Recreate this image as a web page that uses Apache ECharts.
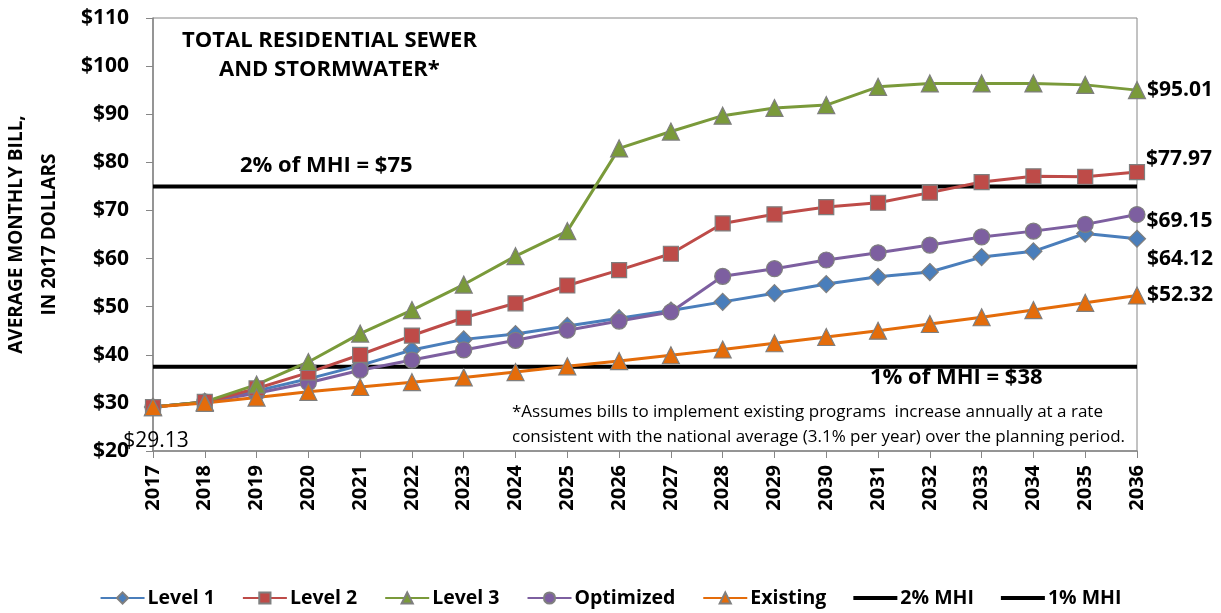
<!DOCTYPE html>
<html>
<head>
<meta charset="utf-8">
<script src="https://cdn.jsdelivr.net/npm/echarts@6/dist/echarts.min.js"></script>
<style>
  html, body { margin: 0; padding: 0; background: #fff; }
  #chart { width: 1221px; height: 613px; }
</style>
</head>
<body>
<div id="chart"></div>
<script>
// Total residential sewer + stormwater bill projections (2017 dollars)
const FONT = '"Open Sans", sans-serif'

const years = ['2017','2018','2019','2020','2021','2022','2023','2024','2025','2026',
  '2027','2028','2029','2030','2031','2032','2033','2034','2035','2036']

const level1    = [29.13, 30.2, 32.5, 35.0, 37.8, 41.0, 43.2, 44.3, 46.0, 47.6, 49.2, 51.0, 52.8, 54.7, 56.2, 57.2, 60.3, 61.5, 65.2, 64.12]
const level2    = [29.13, 30.2, 33.0, 36.3, 40.0, 44.0, 47.7, 50.7, 54.4, 57.6, 61.0, 67.3, 69.2, 70.7, 71.6, 73.7, 75.9, 77.1, 77.0, 77.97]
const level3    = [29.13, 30.2, 33.8, 38.5, 44.4, 49.3, 54.6, 60.5, 65.7, 82.9, 86.4, 89.7, 91.3, 91.9, 95.7, 96.4, 96.4, 96.4, 96.1, 95.01]
const optimized = [29.13, 30.2, 32.0, 34.2, 36.8, 38.9, 41.0, 43.0, 45.1, 47.0, 48.9, 56.3, 57.9, 59.7, 61.2, 62.8, 64.5, 65.7, 67.1, 69.15]
const existing  = [29.13, 30.0, 31.1, 32.3, 33.3, 34.3, 35.3, 36.4, 37.6, 38.7, 39.9, 41.1, 42.4, 43.7, 45.0, 46.4, 47.8, 49.3, 50.8, 52.32]
const mhi2 = 75
const mhi1 = 37.5

const yTicks = { min: 20, max: 110, interval: 10 }

const theme = { axis: '#868686', ink: '#000', marker: '#7f7f7f' }
const LINE_ICON = 'path://M0,0H44V4H0Z'

function endLabel(offsetY) {
  return {
    show: true,
    fontFamily: FONT, fontWeight: 'bold', fontSize: 21, color: theme.ink,
    position: 'right', distance: 1, offset: [0, offsetY],
    formatter: p => p.dataIndex === years.length - 1 ? '$' + p.value.toFixed(2) : '',
  }
}

function lineSeries(name, data, color, symbol, size, label) {
  return {
    name, type: 'line', data, z: 3,
    lineStyle: { width: 3, color },
    itemStyle: { color, borderColor: theme.marker, borderWidth: 1.2 },
    symbol, symbolSize: size, showSymbol: true,
    label,
  }
}

function flatLine(name, value) {
  return {
    name, type: 'line', data: years.map(() => value), z: 2,
    lineStyle: { width: 4, color: '#000' },
    itemStyle: { color: '#000' },
    symbol: 'none', silent: true,
  }
}

const chart = echarts.init(document.getElementById('chart'), null, { renderer: 'canvas' })

chart.setOption({
  textStyle: { fontFamily: FONT },
  animation: false,
  grid: { left: 153, right: 84, top: 18, bottom: 162, show: true, borderColor: theme.axis, borderWidth: 1,
    containLabel: false, outerBoundsMode: 'none' },
  xAxis: {
    type: 'category', data: years, boundaryGap: false,
    axisLine: { lineStyle: { color: theme.axis, width: 1.5 } },
    axisTick: { show: true, alignWithLabel: true, length: 7, lineStyle: { color: theme.axis } },
    axisLabel: { rotate: 90, fontFamily: FONT, fontWeight: 'bold', fontSize: 20, color: theme.ink, margin: 14, interval: 0 },
    splitLine: { show: false },
  },
  yAxis: {
    type: 'value', ...yTicks,
    name: 'AVERAGE MONTHLY BILL,\nIN 2017 DOLLARS',
    nameLocation: 'middle', nameGap: 87, nameRotate: 90,
    nameTextStyle: { fontFamily: FONT, fontWeight: 'bold', fontSize: 19, color: theme.ink, lineHeight: 33 },
    axisLine: { show: true, lineStyle: { color: theme.axis, width: 1.5 } },
    axisTick: { show: true, length: 7, lineStyle: { color: theme.axis } },
    axisLabel: { fontFamily: FONT, fontWeight: 'bold', fontSize: 21, color: theme.ink, margin: 24, formatter: v => '$' + v },
    splitLine: { show: false },
  },
  legend: {
    bottom: 0, left: 'center', itemGap: 27, itemWidth: 44, itemHeight: 14,
    textStyle: { fontFamily: FONT, fontWeight: 'bold', fontSize: 19.5, color: theme.ink, padding: [0, 0, 0, -2] },
    data: ['Level 1', 'Level 2', 'Level 3', 'Optimized', 'Existing',
      { name: '2% MHI', icon: LINE_ICON }, { name: '1% MHI', icon: LINE_ICON }],
  },
  graphic: [
    { type: 'text', left: 182, top: 30, style: { text: 'TOTAL RESIDENTIAL SEWER', font: 'bold 22px ' + FONT, fill: theme.ink } },
    { type: 'text', left: 219, top: 59, style: { text: 'AND STORMWATER*', font: 'bold 22px ' + FONT, fill: theme.ink } },
    { type: 'text', left: 240, top: 155, style: { text: '2% of MHI = $75', font: 'bold 22px ' + FONT, fill: theme.ink } },
    { type: 'text', left: 870, top: 367, style: { text: '1% of MHI = $38', font: 'bold 22px ' + FONT, fill: theme.ink } },
    { type: 'text', left: 512, top: 400, style: { text: '*Assumes bills to implement existing programs  increase annually at a rate\nconsistent with the national average (3.1% per year) over the planning period.', font: '17px ' + FONT, fill: theme.ink, lineHeight: 25 } },
  ],
  series: [
    flatLine('2% MHI', mhi2),
    flatLine('1% MHI', mhi1),
    lineSeries('Level 1', level1, '#4a7ebb', 'diamond', 17, endLabel(20)),
    lineSeries('Optimized', optimized, '#7d5fa0', 'circle', 16, endLabel(6)),
    lineSeries('Level 2', level2, '#be4b48', 'rect', 15, endLabel(-13)),
    lineSeries('Level 3', level3, '#7a9a3a', 'triangle', 17, endLabel(0)),
    lineSeries('Existing', existing.map((v, i) => i === 0
      ? { value: v, label: { position: 'bottom', distance: 14, offset: [3, 0], fontWeight: 'normal' } }
      : v), '#e46c0a', 'triangle', 17, {
      show: true, fontFamily: FONT, fontWeight: 'bold', fontSize: 21, color: theme.ink,
      position: 'right', distance: 1,
      formatter: p => (p.dataIndex === years.length - 1 || p.dataIndex === 0) ? '$' + p.value.toFixed(2) : '',
    }),
  ],
})
</script>
</body>
</html>
